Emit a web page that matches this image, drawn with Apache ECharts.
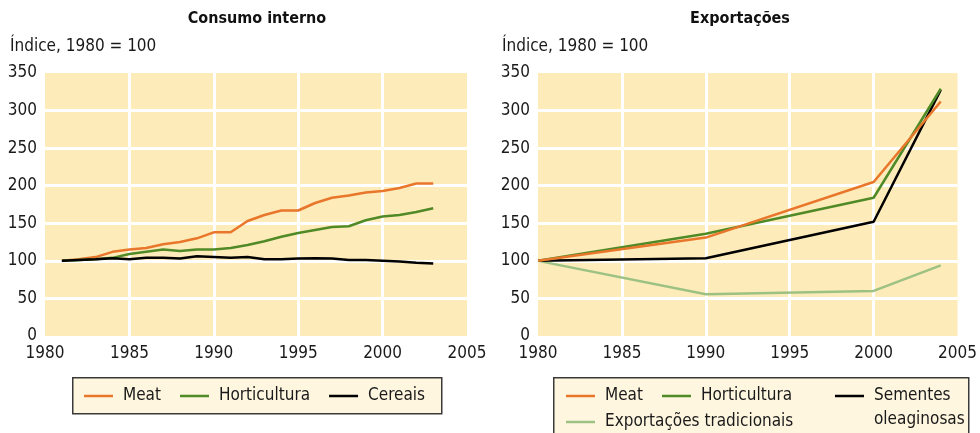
<!DOCTYPE html>
<html>
<head>
<meta charset="utf-8">
<script src="https://cdn.jsdelivr.net/npm/echarts@6/dist/echarts.min.js"></script>
<style>
  html, body { margin: 0; padding: 0; background: #fff; }
  #chart { width: 980px; height: 433px; }
</style>
</head>
<body>
<div id="chart"></div>
<script>
// Consumo interno (annual)
const consumoYears = [1981, 1982, 1983, 1984, 1985, 1986, 1987, 1988, 1989, 1990, 1991, 1992,
  1993, 1994, 1995, 1996, 1997, 1998, 1999, 2000, 2001, 2002, 2003];
const consumoMeat = [100, 102, 105, 112, 115, 117, 122, 125, 130, 138, 138, 153,
  161, 167, 167, 177, 184, 187, 191, 193, 197, 203, 203];
const consumoHorticultura = [100, 101, 102, 104, 109, 112, 115, 113, 115, 115, 117, 121,
  126, 132, 137, 141, 145, 146, 154, 159, 161, 165, 170];
const consumoCereais = [100, 101, 102, 103.5, 102, 104, 104, 103, 106, 105, 104, 105,
  102, 102, 103, 103.5, 103, 101, 101, 100, 99, 97.5, 96.5];

// Exportações
const exportYears = [1980, 1990, 2000, 2004];
const exportMeat = [100, 131, 205, 312];
const exportHorticultura = [100, 136, 184, 329];
const exportSementes = [100, 103.5, 152, 327.5];
const exportTradicionais = [100, 55.5, 60, 94];

const yTicks = [0, 50, 100, 150, 200, 250, 300, 350];
const xTicks = [1980, 1985, 1990, 1995, 2000, 2005];

const FONT = '"DejaVu Sans Condensed", "Liberation Sans Narrow", sans-serif';
const C_MEAT = '#e8762b';
const C_HORT = '#4f8a26';
const C_BLACK = '#000000';
const C_TRAD = '#9cc283';
const PLOT_BG = '#feebba';

const zip = (xs, ys) => xs.map((x, i) => [x, ys[i]]);

function xAxisFor(gridIndex) {
  return {
    type: 'value', gridIndex,
    min: xTicks[0], max: xTicks[xTicks.length - 1], interval: 5,
    axisLine: { show: false }, axisTick: { show: false },
    axisLabel: { color: '#1a1a1a', fontSize: 17, fontFamily: FONT, margin: 9,
      formatter: v => String(v) },
    splitLine: { show: true, showMinLine: false, showMaxLine: false,
      lineStyle: { color: '#ffffff', width: 3 } }
  };
}
function yAxisFor(gridIndex) {
  return {
    type: 'value', gridIndex,
    min: yTicks[0], max: yTicks[yTicks.length - 1], interval: 50,
    axisLine: { show: false }, axisTick: { show: false },
    axisLabel: { color: '#1a1a1a', fontSize: 17, fontFamily: FONT, margin: 8 },
    splitLine: { show: true, showMinLine: false, showMaxLine: false,
      lineStyle: { color: '#ffffff', width: 3 } }
  };
}
function line(name, data, color, idx) {
  return {
    name, type: 'line', data, xAxisIndex: idx, yAxisIndex: idx,
    showSymbol: false, symbol: 'none', silent: true,
    lineStyle: { color, width: 2.5 }, itemStyle: { color },
    z: 3
  };
}

const legendText = { color: '#1a1a1a', fontSize: 17, fontFamily: FONT, lineHeight: 20, padding: [0, 0, 0, 5] };
const legendBase = { orient: 'horizontal', icon: 'rect', itemWidth: 29, itemHeight: 2.5,
  itemGap: 19, padding: 0, selectedMode: false };

const chart = echarts.init(document.getElementById('chart'), null, { renderer: 'canvas' });
chart.setOption({
  animation: false,
  backgroundColor: '#ffffff',
  title: [
    { text: 'Consumo interno', left: 257, top: 11, textAlign: 'center', padding: 0,
      textStyle: { fontSize: 16, fontWeight: 'bold', fontFamily: FONT, color: '#111' } },
    { text: 'Exportações', left: 740, top: 11, textAlign: 'center', padding: 0,
      textStyle: { fontSize: 16, fontWeight: 'bold', fontFamily: FONT, color: '#111' } },
    { text: 'Índice, 1980 = 100', left: 10, top: 38, padding: 0,
      textStyle: { fontSize: 17, fontWeight: 'normal', fontFamily: FONT, color: '#1a1a1a' } },
    { text: 'Índice, 1980 = 100', left: 502, top: 38, padding: 0,
      textStyle: { fontSize: 17, fontWeight: 'normal', fontFamily: FONT, color: '#1a1a1a' } }
  ],
  grid: [
    { left: 45, right: 513, top: 73, bottom: 97, show: true, backgroundColor: PLOT_BG, borderWidth: 0 },
    { left: 538, right: 20, top: 73, bottom: 97, show: true, backgroundColor: PLOT_BG, borderWidth: 0 }
  ],
  xAxis: [xAxisFor(0), xAxisFor(1)],
  yAxis: [yAxisFor(0), yAxisFor(1)],
  graphic: [
    { type: 'rect', left: 72, top: 377, shape: { width: 369, height: 36 },
      style: { fill: '#fff6e0', stroke: '#3a3a3a', lineWidth: 1.5 }, z: -1 },
    { type: 'rect', left: 553, top: 377, shape: { width: 415, height: 70 },
      style: { fill: '#fff6e0', stroke: '#3a3a3a', lineWidth: 1.5 }, z: -1 }
  ],
  legend: [
    Object.assign({}, legendBase, { left: 84, top: 386, textStyle: legendText,
      data: ['Meat', 'Horticultura', 'Cereais'] }),
    Object.assign({}, legendBase, { left: 566, top: 386, textStyle: legendText,
      data: ['Meat', 'Horticultura'] }),
    // blank first line so that "Sementes" sits level with the icon
    Object.assign({}, legendBase, { left: 835, top: 360,
      textStyle: Object.assign({}, legendText, { lineHeight: 24 }),
      formatter: ' \nSementes\noleaginosas',
      data: ['Sementes oleaginosas'] }),
    Object.assign({}, legendBase, { left: 566, top: 412, textStyle: legendText,
      data: ['Exportações tradicionais'] })
  ],
  series: [
    line('Meat', zip(consumoYears, consumoMeat), C_MEAT, 0),
    line('Horticultura', zip(consumoYears, consumoHorticultura), C_HORT, 0),
    line('Cereais', zip(consumoYears, consumoCereais), C_BLACK, 0),
    line('Exportações tradicionais', zip(exportYears, exportTradicionais), C_TRAD, 1),
    line('Sementes oleaginosas', zip(exportYears, exportSementes), C_BLACK, 1),
    line('Horticultura', zip(exportYears, exportHorticultura), C_HORT, 1),
    line('Meat', zip(exportYears, exportMeat), C_MEAT, 1)
  ]
});
</script>
</body>
</html>
